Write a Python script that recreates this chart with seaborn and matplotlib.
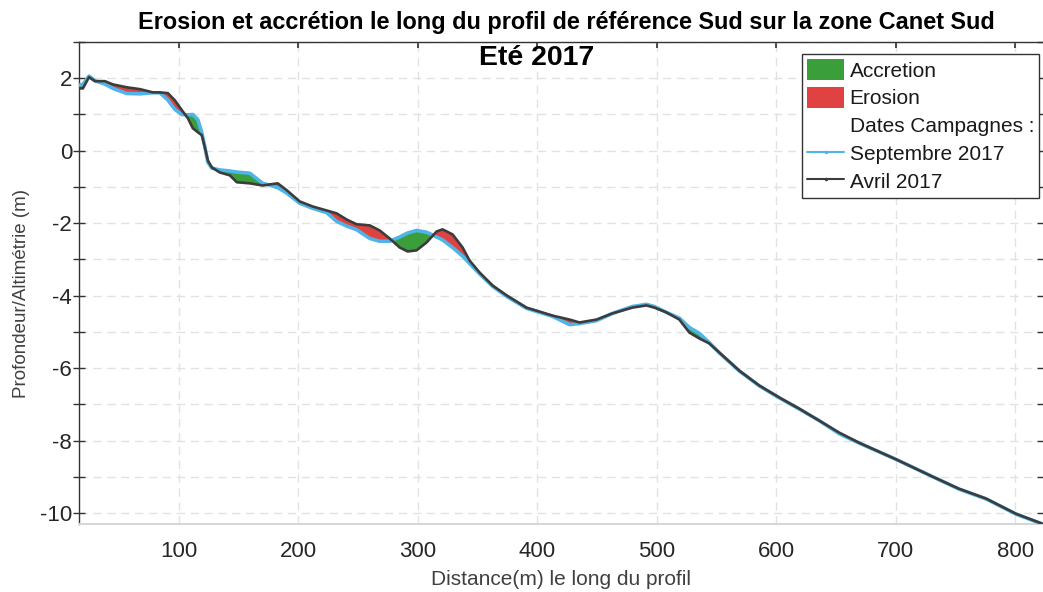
import numpy as np
import pandas as pd
import matplotlib
matplotlib.use("Agg")
import matplotlib.pyplot as plt
import seaborn as sns
from matplotlib.patches import Patch
from matplotlib.lines import Line2D
from matplotlib.ticker import MultipleLocator

# Profile data (distance in m, altitude in m)
distance = [16.4, 19.7, 24.8, 29.8, 38.1, 44.8, 56.5, 67.4, 78.3, 84.1,
            90.8, 96.7, 102.5, 107.5, 111.7, 115.9, 119.2, 121.8, 124.3, 127.6,
            134.3, 142.7, 148.5, 159.4, 170.2, 176.1, 182.8, 190.3, 201.2, 212.1,
            223.8, 232.1, 240.5, 248.8, 259.7, 268.1, 276.4, 284.8, 291.5, 299.0,
            307.4, 315.7, 320.7, 329.1, 337.5, 343.3, 351.7, 362.6, 374.3, 391.0,
            401.9, 412.7, 427.0, 435.3, 449.5, 462.9, 479.6, 491.3, 498.0, 508.0,
            518.9, 527.3, 535.6, 544.0, 552.4, 569.1, 585.8, 602.5, 619.3, 636.0,
            652.7, 669.4, 700.4, 730.5, 753.0, 775.6, 800.7, 822.4]

avril_2017 = [1.72, 1.72, 2.03, 1.92, 1.92, 1.83, 1.75, 1.70, 1.61, 1.61,
              1.59, 1.39, 1.12, 0.90, 0.62, 0.51, 0.43, 0.09, -0.27, -0.46,
              -0.60, -0.68, -0.87, -0.90, -0.96, -0.93, -0.90, -1.09, -1.40, -1.54,
              -1.65, -1.73, -1.90, -2.03, -2.06, -2.20, -2.42, -2.67, -2.78, -2.75,
              -2.53, -2.23, -2.17, -2.31, -2.67, -3.03, -3.36, -3.72, -3.99, -4.33,
              -4.44, -4.55, -4.66, -4.74, -4.66, -4.49, -4.33, -4.27, -4.33, -4.46,
              -4.66, -5.02, -5.18, -5.32, -5.57, -6.07, -6.48, -6.81, -7.12, -7.45,
              -7.78, -8.06, -8.52, -8.99, -9.33, -9.60, -10.02, -10.29]

septembre_2017 = [1.81, 1.83, 2.06, 1.93, 1.84, 1.72, 1.58, 1.57, 1.60, 1.60,
                  1.40, 1.14, 1.00, 0.99, 1.00, 0.86, 0.50, 0.10, -0.32, -0.48,
                  -0.53, -0.56, -0.59, -0.62, -0.90, -0.95, -1.02, -1.17, -1.45, -1.59,
                  -1.71, -1.95, -2.08, -2.18, -2.42, -2.50, -2.50, -2.38, -2.27, -2.20,
                  -2.25, -2.38, -2.46, -2.67, -2.91, -3.11, -3.40, -3.74, -4.02, -4.35,
                  -4.46, -4.57, -4.80, -4.77, -4.69, -4.49, -4.30, -4.24, -4.30, -4.46,
                  -4.62, -4.88, -5.04, -5.30, -5.58, -6.08, -6.49, -6.82, -7.13, -7.45,
                  -7.81, -8.07, -8.52, -8.99, -9.34, -9.61, -10.03, -10.30]

green = '#3a9f3a'
red = '#e04242'
blue = '#4fb4e8'
dark = '#3c3c3c'

df = pd.DataFrame({'distance': distance, 'avril': avril_2017, 'septembre': septembre_2017})

sns.set_theme(style="white")
plt.rcParams['font.family'] = ['Liberation Sans', 'DejaVu Sans']
plt.rcParams['axes.unicode_minus'] = False

fig = plt.figure(figsize=(10.43, 5.92), dpi=100)
ax = fig.add_axes([0.0757, 0.115, 0.924, 0.814])

# accretion / erosion areas
x = df['distance'].values
a = df['avril'].values
s = df['septembre'].values
ax.fill_between(x, a, s, where=s >= a, interpolate=True, color=green, lw=0, zorder=2)
ax.fill_between(x, a, s, where=s < a, interpolate=True, color=red, lw=0, zorder=2)

sns.lineplot(data=df, x='distance', y='septembre', ax=ax, color=blue, lw=2.6,
             estimator=None, sort=False, zorder=3)
sns.lineplot(data=df, x='distance', y='avril', ax=ax, color=dark, lw=1.9,
             estimator=None, sort=False, zorder=4)

ax.set_xlim(16.4, 823)
ax.set_ylim(-10.3, 3)
ax.xaxis.set_major_locator(MultipleLocator(100))
ax.yaxis.set_major_locator(MultipleLocator(2))
ax.yaxis.set_minor_locator(MultipleLocator(1))

ax.grid(True, which='major', axis='x', color='#e2e2e2', ls=(0, (6, 4)), lw=1)
ax.grid(True, which='both', axis='y', color='#e2e2e2', ls=(0, (6, 4)), lw=1)
ax.set_axisbelow(True)

ax.tick_params(axis='y', which='both', direction='inout', left=True, right=True,
               length=8, width=1, color='#333333', labelsize=16, labelcolor='#262626', pad=1)
ax.tick_params(axis='x', which='major', bottom=False, top=True, direction='in',
               length=4, color='#333333', labelsize=16, labelcolor='#262626', pad=12)

for side in ['left', 'top']:
    ax.spines[side].set_color('#333333')
    ax.spines[side].set_linewidth(1)
ax.spines['bottom'].set_color('#d6d6d6')
ax.spines['bottom'].set_linewidth(1.5)
ax.spines['right'].set_visible(False)

ax.set_xlabel('Distance(m) le long du profil', fontsize=15, color='#404040', labelpad=6)
ax.set_ylabel('Profondeur/Altimétrie (m)', fontsize=13.5, color='#404040')
ax.yaxis.set_label_coords(-0.051, 0.479)

fig.text(0.543, 0.962, 'Erosion et accrétion le long du profil de référence Sud sur la zone Canet Sud',
         ha='center', va='center', fontsize=16.9, fontweight='bold', color='black')
ax.text(0.475, 0.966, 'Eté 2017', transform=ax.transAxes, ha='center', va='center',
        fontsize=20.4, fontweight='bold', color='black')

handles = [Patch(facecolor=green, edgecolor='none'),
           Patch(facecolor=red, edgecolor='none'),
           Line2D([], [], color='none'),
           Line2D([], [], color=blue, lw=1.5, marker='.', markersize=3),
           Line2D([], [], color=dark, lw=1.5, marker='.', markersize=3)]
labels = ['Accretion', 'Erosion', 'Dates Campagnes :', 'Septembre 2017', 'Avril 2017']
leg = ax.legend(handles, labels, loc='upper right', bbox_to_anchor=(0.9965, 0.976),
                fontsize=15, frameon=True, fancybox=False, framealpha=1,
                handlelength=1.8, handleheight=1.2, handletextpad=0.25,
                labelspacing=0.3, borderpad=0.25, borderaxespad=0)
leg.get_frame().set_edgecolor('#333333')
leg.get_frame().set_linewidth(1)
for t in leg.get_texts():
    t.set_color('#1a1a1a')

fig.savefig('out.png', dpi=100)
